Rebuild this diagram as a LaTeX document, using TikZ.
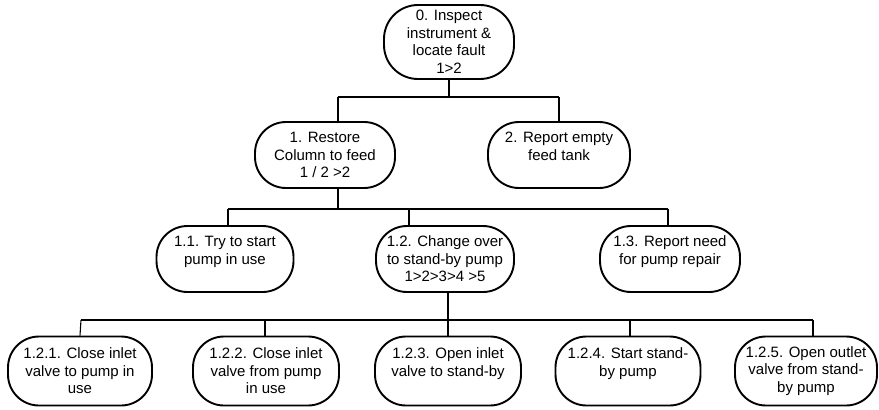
\documentclass[tikz,border=0pt]{standalone}
\usepackage{fontspec}
\setmainfont{Liberation Sans}
\begin{document}
\begin{tikzpicture}[x=1pt,y=-1pt,
  task/.style={draw=black, line width=1.9pt, rounded corners=31pt, fill=white,
    align=center, inner sep=0pt, font=\fontsize{15}{17.5}\selectfont},
  link/.style={draw=black, line width=1.1pt}]
\useasboundingbox (0,0) rectangle (879,410);
% nodes
\node[task, minimum width=130pt, minimum height=74pt, rounded corners=34pt] (n0) at (449,42) {0. Inspect\\instrument \&\\locate fault\\1>2};
\node[task, minimum width=140pt, minimum height=66pt] (n1) at (325,155) {1. Restore\\Column to feed\\1 / 2 >2};
\node[task, minimum width=142pt, minimum height=66pt] (n2) at (559,155) {2. Report empty\\feed tank\\\mbox{}};
\node[task, minimum width=137pt, minimum height=66pt] (n11) at (225,259) {1.1. Try to start\\pump in use\\\mbox{}};
\node[task, minimum width=138pt, minimum height=66pt] (n12) at (445,259) {1.2. Change over\\to stand-by pump\\1>2>3>4 >5};
\node[task, minimum width=140pt, minimum height=66pt] (n13) at (670,259) {1.3. Report need\\for pump repair\\\mbox{}};
\node[task, minimum width=144pt, minimum height=69pt] (n121) at (80,371) {1.2.1. Close inlet\\valve to pump in\\use};
\node[task, minimum width=146pt, minimum height=69pt] (n122) at (266,371) {1.2.2. Close inlet\\valve from pump\\in use};
\node[task, minimum width=146pt, minimum height=69pt] (n123) at (448,371) {1.2.3. Open inlet\\valve to stand-by\\\mbox{}};
\node[task, minimum width=145pt, minimum height=69pt] (n124) at (628,371) {1.2.4. Start stand-\\by pump\\\mbox{}};
\node[task, minimum width=142pt, minimum height=69pt] (n125) at (806,371) {1.2.5. Open outlet\\valve from stand-\\by pump};
% junction coordinates
\coordinate (j0) at (449,97);
\coordinate (j0a) at (338,97);
\coordinate (j0b) at (559,97);
\coordinate (j1) at (338,209);
\coordinate (j1a) at (228,209);
\coordinate (j1b) at (409,209);
\coordinate (j1c) at (668,209);
\coordinate (j2) at (448,320);
\coordinate (j2a) at (81,320);
\coordinate (j2b) at (265,320);
\coordinate (j2d) at (630,320);
\coordinate (j2e) at (813,320);
% connectors
\begin{scope}[link]
\draw (n0.south) -- (j0);
\draw (j0a) -- (j0b);
\draw (j0a) -- (j0a |- n1.north);
\draw (j0b) -- (n2.north);
\draw (j1 |- n1.south) -- (j1);
\draw (j1a) -- (j1c);
\draw (j1a) -- (j1a |- n11.north);
\draw (j1b) -- (j1b |- n12.north);
\draw (j1c) -- (j1c |- n13.north);
\draw (j2 |- n12.south) -- (j2);
\draw (j2a) -- (j2e);
\draw (j2a) -- (n121.north);
\draw (j2b) -- (j2b |- n122.north);
\draw (j2) -- (n123.north);
\draw (j2d) -- (j2d |- n124.north);
\draw (j2e) -- (j2e |- n125.north);
\end{scope}
\end{tikzpicture}
\end{document}
